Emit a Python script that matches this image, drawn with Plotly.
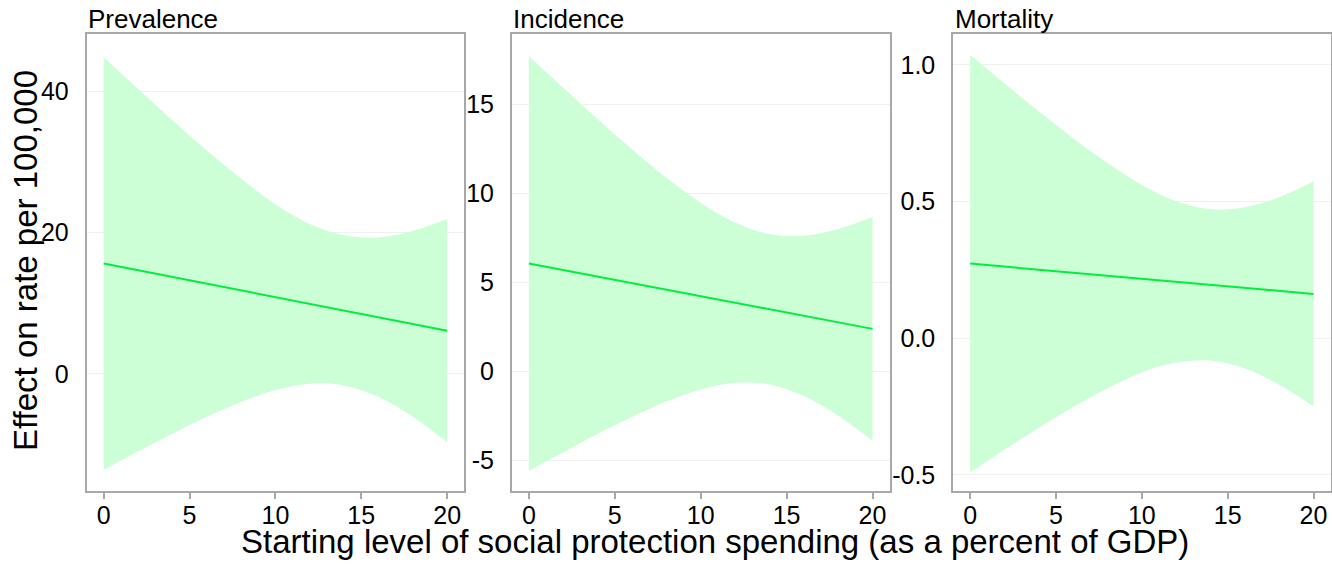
import plotly.graph_objects as go

# Starting level of social protection spending (% of GDP)
spending = [0, 2, 4, 6, 8, 10, 12, 14, 16, 18, 20]

# Prevalence: marginal effect and 95% confidence band
prev_effect = [15.6, 14.65, 13.7, 12.75, 11.8, 10.85, 9.9, 8.95, 8.0, 7.05, 6.1]
prev_upper = [44.8, 40.3, 35.9, 31.6, 27.6, 24.0, 21.2, 19.6, 19.3, 20.2, 21.9]
prev_lower = [-13.6, -11.0, -8.5, -6.1, -4.0, -2.3, -1.4, -1.65, -3.3, -6.1, -9.7]

# Incidence
inc_effect = [6.07, 5.70, 5.34, 4.97, 4.60, 4.24, 3.87, 3.50, 3.13, 2.77, 2.40]
inc_upper = [17.72, 15.93, 14.17, 12.48, 10.88, 9.48, 8.37, 7.72, 7.63, 8.01, 8.68]
inc_lower = [-5.58, -4.53, -3.49, -2.54, -1.68, -1.00, -0.63, -0.72, -1.37, -2.47, -3.88]

# Mortality
mort_effect = [0.273, 0.262, 0.251, 0.240, 0.229, 0.218, 0.206, 0.195, 0.184, 0.173, 0.162]
mort_upper = [1.036, 0.932, 0.830, 0.732, 0.641, 0.561, 0.501, 0.472, 0.479, 0.516, 0.574]
mort_lower = [-0.490, -0.408, -0.328, -0.252, -0.183, -0.125, -0.089, -0.082, -0.111, -0.170, -0.250]

panel_titles = ["Prevalence", "Incidence", "Mortality"]
x_ticks = [0, 5, 10, 15, 20]
y_ticks = [[0, 20, 40], [-5, 0, 5, 10, 15], [-0.5, 0.0, 0.5, 1.0]]
y_ticktext = [["0", "20", "40"], ["-5", "0", "5", "10", "15"], ["-0.5", "0.0", "0.5", "1.0"]]
y_ranges = [[-16.6, 48.1], [-6.7, 18.95], [-0.559, 1.113]]

W, H = 1332, 564
FONT = "Arial, 'Liberation Sans', sans-serif"
LINE_GREEN = "#00ee3c"
BAND_GREEN = "rgb(204,255,214)"
FRAME = "#a8a8a8"

# panel placement in pixels (left, right)
panel_px = [(86.5, 464.3), (511.7, 889.7), (953.0, 1330.7)]
top_px, bottom_px = 34, 491

series = [
    (prev_effect, prev_upper, prev_lower),
    (inc_effect, inc_upper, inc_lower),
    (mort_effect, mort_upper, mort_lower),
]

fig = go.Figure()
layout = {}
annotations = []

for i, ((eff, up, lo), (l, r)) in enumerate(zip(series, panel_px)):
    n = "" if i == 0 else str(i + 1)
    xa, ya = "x" + n, "y" + n
    fig.add_trace(go.Scatter(x=spending, y=lo, mode="lines", line=dict(width=0, shape="spline"),
                             xaxis=xa, yaxis=ya, showlegend=False, hoverinfo="skip"))
    fig.add_trace(go.Scatter(x=spending, y=up, mode="lines", line=dict(width=0, shape="spline"),
                             fill="tonexty", fillcolor=BAND_GREEN,
                             xaxis=xa, yaxis=ya, showlegend=False, hoverinfo="skip"))
    fig.add_trace(go.Scatter(x=spending, y=eff, mode="lines", line=dict(color=LINE_GREEN, width=2),
                             xaxis=xa, yaxis=ya, showlegend=False))

    layout["xaxis" + n] = dict(
        domain=[l / W, r / W], anchor=ya, range=[-1, 21],
        tickvals=x_ticks, ticks="outside", ticklen=6, tickwidth=1.5, tickcolor=FRAME,
        showline=True, linecolor=FRAME, linewidth=1.5, mirror=True,
        showgrid=False, zeroline=False, automargin=False,
        tickfont=dict(family=FONT, size=25, color="black"), ticklabelstandoff=-5,
    )
    layout["yaxis" + n] = dict(
        domain=[1 - bottom_px / H, 1 - top_px / H], anchor=xa, range=y_ranges[i],
        tickvals=y_ticks[i], ticktext=y_ticktext[i], ticks="",
        showline=True, linecolor=FRAME, linewidth=1.5, mirror=True,
        showgrid=True, gridcolor="#f0f0f0", gridwidth=1, zeroline=False, automargin=False,
        tickfont=dict(family=FONT, size=25, color="black"), ticklabelstandoff=11,
    )
    annotations.append(dict(
        text=panel_titles[i], xref="paper", yref="paper", x=(l - 0.5) / W, y=1 - 19 / H,
        xanchor="left", yanchor="middle", showarrow=False,
        font=dict(family=FONT, size=26, color="black"),
    ))

annotations.append(dict(
    text="Starting level of social protection spending (as a percent of GDP)",
    xref="paper", yref="paper", x=715 / W, y=1 - 541 / H,
    xanchor="center", yanchor="middle", showarrow=False,
    font=dict(family=FONT, size=33, color="black"),
))
annotations.append(dict(
    text="Effect on rate per 100,000", textangle=-90,
    xref="paper", yref="paper", x=25 / W, y=1 - 261 / H,
    xanchor="center", yanchor="middle", showarrow=False,
    font=dict(family=FONT, size=33, color="black"),
))

fig.update_layout(
    width=W, height=H,
    margin=dict(l=0, r=0, t=0, b=0),
    paper_bgcolor="white", plot_bgcolor="white",
    annotations=annotations,
    **layout,
)

fig.write_html("out.html")
